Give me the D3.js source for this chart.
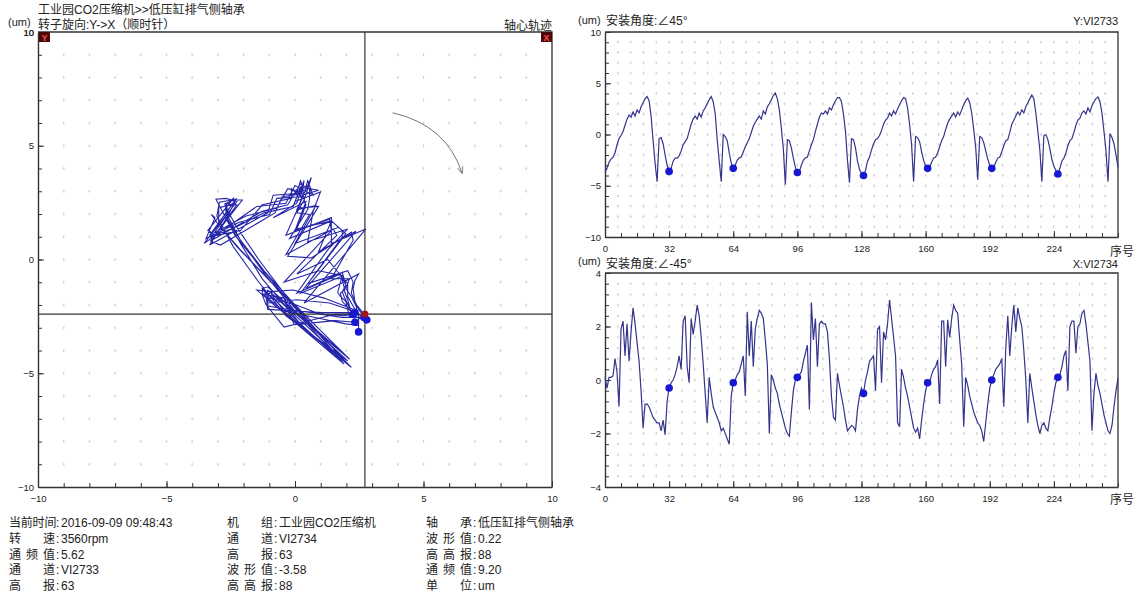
<!DOCTYPE html>
<html>
<head>
<meta charset="utf-8">
<script src="https://cdn.jsdelivr.net/npm/d3@7"></script>
<style>
body{margin:0;background:#fff;}
svg{display:block;font-family:"Liberation Sans","Noto Sans CJK SC",sans-serif;}
.tick text{font-size:9.5px;fill:#222;}
</style>
</head>
<body>
<svg id="chart" width="1137" height="596"></svg>
<script>
// Y:VI2733 waveform (um), one value per sample 0..256
var waveY = [
 -3.7,-3.3,-2.7,-2.4,-2.2,-1.8,-1.0,-0.4,-0.1,0.3,0.9,1.5,1.9,1.7,2.2,1.8,2.4,2.1,2.7,3.1,3.5,3.7,3.3,1.8,-0.6,-2.8,-4.6,-0.4,-0.3,-0.9,-2.0,-3.0,
 -3.6,-3.3,-2.6,-2.3,-2.3,-2.1,-1.6,-1.0,-0.7,-0.4,0.3,1.0,1.5,1.8,1.5,2.1,1.7,2.3,2.6,3.0,3.4,3.7,3.2,2.0,-0.5,-2.6,-4.6,0.0,-0.2,-0.6,-1.8,-2.8,
 -3.3,-3.0,-2.5,-2.3,-2.2,-1.7,-1.2,-0.8,-0.4,0.2,0.8,1.2,1.5,1.8,1.5,2.3,2.0,2.7,3.0,3.4,3.8,4.05,3.5,2.4,0.6,-1.4,-4.9,-0.5,-0.6,-1.3,-2.3,-3.2,
 -3.7,-3.6,-3.0,-2.5,-2.3,-2.2,-1.6,-1.0,-0.5,0.3,1.0,1.7,2.1,2.0,2.3,2.0,2.6,2.4,2.9,3.3,3.6,3.6,3.2,2.0,0.3,-2.5,-4.7,-0.4,-0.5,-1.3,-2.6,-3.4,
 -3.8,-4.0,-3.5,-2.6,-2.2,-1.5,-0.9,-0.5,-0.4,-0.1,0.4,1.0,1.4,1.6,2.1,1.8,2.3,2.0,2.5,2.9,3.3,3.6,3.5,2.6,1.0,-1.0,-4.6,-0.2,-0.3,-0.7,-1.7,-2.5,-3.1,
 -3.3,-3.2,-2.7,-2.3,-2.2,-1.8,-1.2,-0.6,-0.2,0.5,1.1,1.5,1.8,2.1,1.7,2.2,1.9,2.4,2.9,3.3,3.55,3.1,2.1,0.5,-1.3,-4.4,-0.2,-0.3,-0.8,-1.6,-2.4,-3.0,
 -3.3,-3.2,-2.7,-2.3,-2.2,-1.7,-1.1,-0.6,-0.5,0.2,1.0,1.4,1.8,2.2,1.9,2.4,2.1,2.7,3.1,3.5,3.86,3.5,2.1,0.3,-1.5,-4.6,-0.1,0.0,-0.5,-1.4,-2.4,-3.1,
 -3.5,-3.85,-3.3,-2.6,-2.3,-1.8,-1.1,-0.6,-0.4,0.2,0.9,1.4,1.6,2.1,2.3,2.0,2.6,2.2,2.8,3.2,3.5,3.66,3.2,2.1,0.3,-1.6,-4.6,0.1,-0.3,-0.9,-2.0,-3.2
];
// X:VI2734 waveform (um), one value per sample 0..256
var waveX = [
 0.1,-0.3,0.1,0.1,0.15,0.8,0.3,-1.0,1.9,2.2,0.9,2.1,0.7,1.8,2.7,2.1,1.4,0.7,-0.4,-1.8,-0.9,-0.9,-1.0,-1.2,-1.4,-1.5,-1.6,-1.6,-1.9,-1.5,-2.05,-0.8,
 -0.3,-0.1,0.0,0.2,0.5,0.9,0.4,2.2,2.4,0.5,-0.1,2.3,1.7,2.2,2.8,2.4,1.6,0.6,-0.5,-1.6,0.1,-0.5,-1.0,-1.2,-1.4,-1.6,-1.9,-1.8,-2.0,-2.2,-2.4,-0.6,
 -0.1,0.0,0.2,0.3,0.6,0.9,-0.6,2.55,0.9,2.2,0.5,1.9,2.3,2.6,2.5,2.3,1.5,0.6,-2.0,0.2,0.0,-0.3,-0.5,-0.9,-1.2,-1.5,-1.8,-2.0,-2.1,-1.2,-0.4,0.0,
 0.1,0.2,0.3,0.7,1.0,1.3,-1.1,2.9,1.5,2.3,0.5,2.1,2.2,2.1,2.1,1.8,0.8,-0.6,-1.4,-1.5,0.25,-0.2,-0.6,-1.0,-1.5,-1.9,-1.8,-1.7,-1.75,-1.9,-1.1,-0.6,
 -0.3,-0.5,0.0,0.3,0.7,0.8,0.9,-0.4,1.9,2.0,-0.1,1.8,1.5,2.1,3.0,2.3,1.6,0.9,-1.6,-1.75,0.4,0.1,-0.3,-0.6,-1.0,-1.4,-1.8,-1.95,-1.8,-2.2,-1.5,-0.9,
 -0.4,-0.1,-0.1,0.2,0.4,0.5,0.75,-0.9,2.2,2.2,0.5,2.25,1.6,2.3,2.8,2.6,2.5,1.5,0.6,-1.75,0.1,-0.2,-0.6,-0.9,-1.2,-1.4,-1.6,-1.7,-1.9,-2.3,-1.6,-0.9,
 -0.3,0.0,0.2,0.4,0.5,0.6,0.8,-1.0,1.2,2.4,0.9,2.0,2.8,1.8,2.7,2.3,2.0,1.1,0.0,-1.6,0.25,-0.3,-0.8,-1.3,-1.7,-2.0,-1.7,-1.6,-1.8,-1.9,-1.4,-1.0,
 -0.5,-0.1,0.1,0.2,0.5,0.9,1.1,-0.4,2.0,2.2,2.2,1.0,2.0,2.1,2.5,2.6,2.1,1.4,0.7,-1.9,-0.5,0.25,-0.2,-0.5,-0.9,-1.3,-1.6,-1.9,-2.0,-1.7,-1.0,-0.4,0.07
];
// key phasor sample positions
var keyIdx = [32, 64, 96, 129, 161, 193, 226];

var orbitTicks = [-10, -5, 0, 5, 10];
var topYTicks = [-10, -5, 0, 5, 10];
var botYTicks = [-4, -2, 0, 2, 4];
var sampleTicks = [0, 32, 64, 96, 128, 160, 192, 224];
var crossPos = [2.72, -2.4];
var arrowPts = [[3.8, 6.45], [5.9, 5.9], [6.5, 3.8]];

var infoCol1 = [["当前时间", "2016-09-09 09:48:43"], ["转速", "3560rpm"], ["通频值", "5.62"], ["通道", "VI2733"], ["高报", "63"]];
var infoCol2 = [["机组", "工业园CO2压缩机"], ["通道", "VI2734"], ["高报", "63"], ["波形值", "-3.58"], ["高高报", "88"]];
var infoCol3 = [["轴承", "低压缸排气侧轴承"], ["波形值", "0.22"], ["高高报", "88"], ["通频值", "9.20"], ["单位", "um"]];

var svg = d3.select("#chart");
var axisColor = "#333";

//scales
var ox = d3.scaleLinear().domain([-10, 10]).range([38, 552]);
var oy = d3.scaleLinear().domain([-10, 10]).range([487, 32]);
var tx = d3.scaleLinear().domain([0, 256]).range([605, 1118]);
var ty = d3.scaleLinear().domain([-10, 10]).range([237, 32]);
var bx = d3.scaleLinear().domain([0, 256]).range([605, 1118]);
var by = d3.scaleLinear().domain([-4, 4]).range([487, 273]);

// draws grid marks, axes and frame for one panel
function panel(x, y, xMajor, xMinor, yMajor, yMinor, gridX, gridY) {
    var d = "";
    gridX.forEach(function(gx) {
        gridY.forEach(function(gy) {
            d += "M" + (x(gx) - 1) + "," + y(gy) + "h2M" + x(gx) + "," + (y(gy) - 1.5) + "v3";
        });
    });
    svg.append("path").attr("d", d).attr("stroke", "#d4d4d4").attr("stroke-width", 1).attr("fill", "none");

    var x0 = x.range()[0], x1 = x.range()[1], y0 = y.range()[0], y1 = y.range()[1];
    // top + right frame
    svg.append("path")
        .attr("d", "M" + x0 + "," + y1 + "H" + x1 + "V" + y0)
        .attr("stroke", axisColor).attr("stroke-width", 1.3).attr("fill", "none");

    svg.append("g").attr("transform", "translate(0," + y0 + ")")
        .call(d3.axisBottom(x).tickValues(xMinor).tickSize(-4).tickFormat(""))
        .call(function(g) { g.select(".domain").remove(); })
        .attr("color", axisColor);
    svg.append("g").attr("transform", "translate(0," + y0 + ")")
        .call(d3.axisBottom(x).tickValues(xMajor).tickSizeInner(-6).tickSizeOuter(0).tickPadding(8))
        .attr("color", axisColor)
        .call(function(g) { g.select(".domain").attr("stroke-width", 1.4); });

    svg.append("g").attr("transform", "translate(" + x0 + ",0)")
        .call(d3.axisLeft(y).tickValues(yMinor).tickSize(-4).tickFormat(""))
        .call(function(g) { g.select(".domain").remove(); })
        .attr("color", axisColor);
    svg.append("g").attr("transform", "translate(" + x0 + ",0)")
        .call(d3.axisLeft(y).tickValues(yMajor).tickSizeInner(-6).tickSizeOuter(0).tickPadding(4))
        .attr("color", axisColor)
        .call(function(g) { g.select(".domain").attr("stroke-width", 1.4); });
}

function label(x, y, txt, size, anchor, color) {
    return svg.append("text").attr("x", x).attr("y", y).text(txt)
        .attr("font-size", size).attr("fill", color || "#222")
        .attr("text-anchor", anchor || "start");
}

// ---------- orbit panel ----------
panel(ox, oy, orbitTicks, d3.range(-10, 11, 1), orbitTicks, d3.range(-10, 11, 1),
      d3.range(-9, 10, 1), d3.range(-9, 10, 1));

// orbit from the two probes mounted at +45 / -45 degrees
var orbit = waveY.map(function(v, i) {
    return [(waveX[i] - v) * Math.SQRT1_2, (waveX[i] + v) * Math.SQRT1_2];
});

svg.append("path")
    .datum(orbit)
    .attr("d", d3.line().x(function(d) { return ox(d[0]); }).y(function(d) { return oy(d[1]); }))
    .attr("fill", "none").attr("stroke", "#2626aa").attr("stroke-width", 1.1);

// crosshair
svg.append("line").attr("x1", ox(crossPos[0])).attr("x2", ox(crossPos[0]))
    .attr("y1", oy(10)).attr("y2", oy(-10)).attr("stroke", "#333").attr("stroke-width", 1.2);
svg.append("line").attr("x1", ox(-10)).attr("x2", ox(10))
    .attr("y1", oy(crossPos[1])).attr("y2", oy(crossPos[1])).attr("stroke", "#333").attr("stroke-width", 1.2);

svg.selectAll(".kpo").data(keyIdx).enter().append("circle")
    .attr("cx", function(i) { return ox(orbit[i][0]); })
    .attr("cy", function(i) { return oy(orbit[i][1]); })
    .attr("r", 3.8).attr("fill", "#1818d0");
svg.append("circle").attr("cx", ox(crossPos[0])).attr("cy", oy(crossPos[1]))
    .attr("r", 3.5).attr("fill", "#a01818");

// rotation arrow
svg.append("defs").append("marker").attr("id", "ah")
    .attr("viewBox", "0 0 10 10").attr("refX", 9).attr("refY", 5)
    .attr("markerWidth", 7).attr("markerHeight", 7).attr("orient", "auto")
    .append("path").attr("d", "M0,1L10,5L0,9").attr("fill", "none").attr("stroke", "#777").attr("stroke-width", 1.2);
svg.append("path")
    .attr("d", "M" + ox(arrowPts[0][0]) + "," + oy(arrowPts[0][1]) +
               "Q" + ox(arrowPts[1][0]) + "," + oy(arrowPts[1][1]) + " " +
               ox(arrowPts[2][0]) + "," + oy(arrowPts[2][1]))
    .attr("fill", "none").attr("stroke", "#777").attr("stroke-width", 1).attr("marker-end", "url(#ah)");

// Y / X markers at the corners
svg.append("rect").attr("x", 39).attr("y", 32).attr("width", 11).attr("height", 10).attr("fill", "#4a0808");
label(44.5, 40.5, "Y", "9px", "middle", "#ff5050").attr("font-weight", "bold");
svg.append("rect").attr("x", 541).attr("y", 32).attr("width", 11).attr("height", 10).attr("fill", "#4a0808");
label(546.5, 40.5, "X", "9px", "middle", "#ff5050").attr("font-weight", "bold");

label(38, 14, "工业园CO2压缩机>>低压缸排气侧轴承", "12px");
label(8, 26, "(um)", "11px");
label(38, 29, "转子旋向:Y->X（顺时针）", "12px");
label(552, 30, "轴心轨迹", "12px", "end");
label(34, 36, "10", "9.5px", "end");

// ---------- Y waveform ----------
panel(tx, ty, sampleTicks, d3.range(0, 257, 8), topYTicks, d3.range(-10, 11, 1),
      d3.range(1, 40).map(function(k) { return k * 6.4; }), d3.range(-9, 10, 1));
svg.append("path").datum(waveY)
    .attr("d", d3.line().x(function(d, i) { return tx(i); }).y(function(d) { return ty(d); }))
    .attr("fill", "none").attr("stroke", "#34348c").attr("stroke-width", 1.2);
svg.selectAll(".kpy").data(keyIdx).enter().append("circle")
    .attr("cx", function(i) { return tx(i); }).attr("cy", function(i) { return ty(waveY[i]); })
    .attr("r", 3.8).attr("fill", "#1818d0");
label(578, 24, "(um)", "11px");
label(606, 25, "安装角度:∠45°", "12px");
label(1118, 25, "Y:VI2733", "11px", "end");
label(1110, 256, "序号", "12px");

// ---------- X waveform ----------
panel(bx, by, sampleTicks, d3.range(0, 257, 8), botYTicks, d3.range(-4, 4.01, 0.4),
      d3.range(1, 40).map(function(k) { return k * 6.4; }), d3.range(1, 20).map(function(k) { return -4 + k * 0.4; }));
svg.append("path").datum(waveX)
    .attr("d", d3.line().x(function(d, i) { return bx(i); }).y(function(d) { return by(d); }))
    .attr("fill", "none").attr("stroke", "#34348c").attr("stroke-width", 1.2);
svg.selectAll(".kpx").data(keyIdx).enter().append("circle")
    .attr("cx", function(i) { return bx(i); }).attr("cy", function(i) { return by(waveX[i]); })
    .attr("r", 3.8).attr("fill", "#1818d0");
label(578, 265, "(um)", "11px");
label(606, 268, "安装角度:∠-45°", "12px");
label(1118, 268, "X:VI2734", "11px", "end");
label(1110, 504, "序号", "12px");

// ---------- info block ----------
function info(rows, x0) {
    rows.forEach(function(r, k) {
        var yy = 527 + k * 15.8;
        var chars = r[0].split("");
        var pos;
        if (chars.length == 4) pos = [0, 11.8, 23.6, 35.4];
        else if (chars.length == 3) pos = [0, 17, 34];
        else pos = [0, 34];
        chars.forEach(function(c, j) { label(x0 + pos[j], yy, c, "12px"); });
        label(x0 + 47, yy, ":", "12px");
        label(x0 + 52, yy, r[1], "12px");
    });
}
info(infoCol1, 9);
info(infoCol2, 227);
info(infoCol3, 426);
</script>
</body>
</html>
